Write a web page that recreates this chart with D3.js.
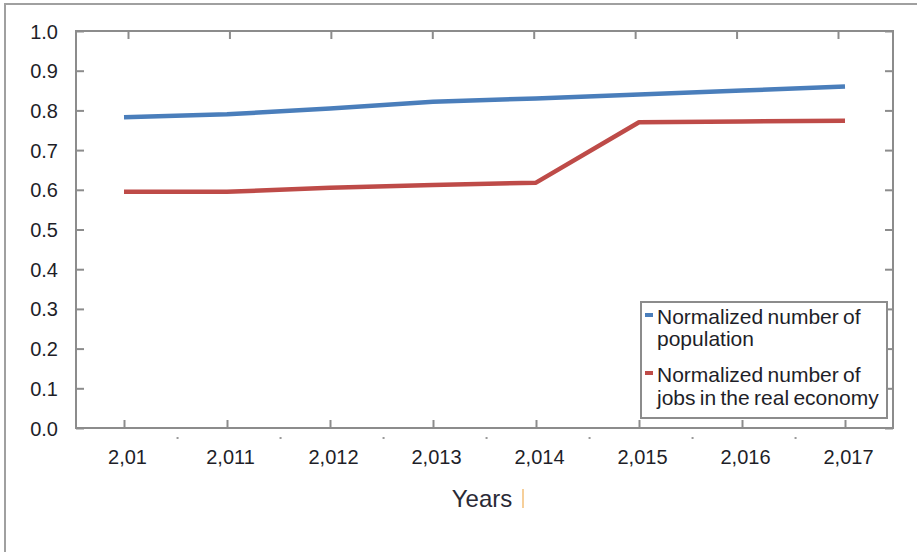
<!DOCTYPE html>
<html>
<head>
<meta charset="utf-8">
<script src="https://cdn.jsdelivr.net/npm/d3@7"></script>
<style>
  html, body { margin: 0; padding: 0; background: #fff; }
  svg { display: block; font-family: "Liberation Sans", Arial, sans-serif; }
</style>
</head>
<body>
<svg id="chart" width="917" height="552"></svg>
<script>
// ---- data ----
const years = [2010, 2011, 2012, 2013, 2014, 2015, 2016, 2017];
const xTickLabels = ["2,01", "2,011", "2,012", "2,013", "2,014", "2,015", "2,016", "2,017"];
const yTickValues = [0.0, 0.1, 0.2, 0.3, 0.4, 0.5, 0.6, 0.7, 0.8, 0.9, 1.0];
const population = [0.783, 0.790, 0.805, 0.822, 0.830, 0.840, 0.850, 0.860];
const jobs = [0.595, 0.595, 0.605, 0.612, 0.618, 0.770, 0.772, 0.774];
const seriesNames = ["Normalized number of|population", "Normalized number of|jobs in the real economy"];
const axisTitle = "Years";

// ---- layout ----
const svg = d3.select("#chart");
const plot = { left: 76, top: 31, right: 893, bottom: 428 };
const colors = ["#4a7ebb", "#be4b48"];
const axisColor = "#8c8c8c";
const textColor = "#1e1e28";

// outer border (left + top visible)
svg.append("rect").attr("x", 5).attr("y", 4).attr("width", 940).attr("height", 600)
  .attr("fill", "none").attr("stroke", "#a0a0a0").attr("stroke-width", 2);

const x = d3.scaleLinear().domain([2010, 2017]).range([124, 845]);
const xTop = d3.scaleLinear().domain([2010, 2017]).range([128, 838]);
const y = d3.scaleLinear().domain([0, 1]).range([plot.bottom, plot.top]);

// plot frame
svg.append("rect").attr("x", plot.left).attr("y", plot.top)
  .attr("width", plot.right - plot.left).attr("height", plot.bottom - plot.top)
  .attr("fill", "none").attr("stroke", axisColor).attr("stroke-width", 2);

// left axis ticks (inward) + labels
const yLeft = d3.axisLeft(y).tickValues(yTickValues).tickSize(-8).tickPadding(18)
  .tickFormat(d3.format(".1f"));
const gL = svg.append("g").attr("transform", `translate(${plot.left},0)`).call(yLeft);
gL.select(".domain").remove();
gL.selectAll(".tick line").attr("stroke", axisColor).attr("stroke-width", 2);
gL.selectAll(".tick text").attr("fill", textColor).style("font-size", "20px")
  .attr("dy", "0.35em");

// right axis ticks (inward)
const yRight = d3.axisRight(y).tickValues(yTickValues).tickSize(-8).tickFormat("");
const gR = svg.append("g").attr("transform", `translate(${plot.right},0)`).call(yRight);
gR.select(".domain").remove();
gR.selectAll(".tick line").attr("stroke", axisColor).attr("stroke-width", 2);

// bottom axis ticks (inward) + labels
const xBottom = d3.axisBottom(x).tickValues(years).tickSize(-8)
  .tickFormat((d, i) => xTickLabels[i]);
const gB = svg.append("g").attr("transform", `translate(0,${plot.bottom})`).call(xBottom);
gB.select(".domain").remove();
gB.selectAll(".tick line").attr("stroke", axisColor).attr("stroke-width", 2);
gB.selectAll(".tick text").attr("fill", textColor).style("font-size", "20px")
  .attr("y", 22).attr("dy", "0.71em").attr("dx", 3);

// minor dots below the bottom axis
const minorYears = d3.range(2010.52, 2017, 1.0);
svg.append("g").selectAll("rect").data(minorYears).enter().append("rect")
  .attr("x", d => x(d) - 1).attr("y", plot.bottom + 9).attr("width", 2).attr("height", 2)
  .attr("fill", "#9a9a9a");

// top axis ticks (inward)
const xTopAxis = d3.axisTop(xTop).tickValues(years).tickSize(-8).tickFormat("");
const gT = svg.append("g").attr("transform", `translate(0,${plot.top})`).call(xTopAxis);
gT.select(".domain").remove();
gT.selectAll(".tick line").attr("stroke", axisColor).attr("stroke-width", 2);

// lines
const line = d3.line().x((d, i) => x(years[i])).y(d => y(d));
[population, jobs].forEach((s, k) => {
  svg.append("path").datum(s).attr("d", line).attr("fill", "none")
    .attr("stroke", colors[k]).attr("stroke-width", 4.5).attr("stroke-linejoin", "round");
});

// axis title
svg.append("text").attr("x", 482).attr("y", 507).attr("text-anchor", "middle")
  .attr("fill", "#2a2a36").style("font-size", "24px").text(axisTitle);
svg.append("line").attr("x1", 523).attr("x2", 523).attr("y1", 489).attr("y2", 508)
  .attr("stroke", "#f6cf9a").attr("stroke-width", 2);

// legend
const lg = svg.append("g");
lg.append("rect").attr("x", 641).attr("y", 302).attr("width", 246).attr("height", 116)
  .attr("fill", "#fff").attr("stroke", axisColor).attr("stroke-width", 2);
const legendRows = [[324, 346], [382, 405]];
seriesNames.forEach((name, k) => {
  const parts = name.split("|");
  const ry = legendRows[k];
  lg.append("line").attr("x1", 645).attr("x2", 653).attr("y1", ry[0] - 9).attr("y2", ry[0] - 9)
    .attr("stroke", colors[k]).attr("stroke-width", 4);
  parts.forEach((p, j) => {
    lg.append("text").attr("x", 657).attr("y", ry[j]).attr("fill", textColor)
      .style("font-size", "21px").style("word-spacing", "-1.5px").text(p);
  });
});
</script>
</body>
</html>
